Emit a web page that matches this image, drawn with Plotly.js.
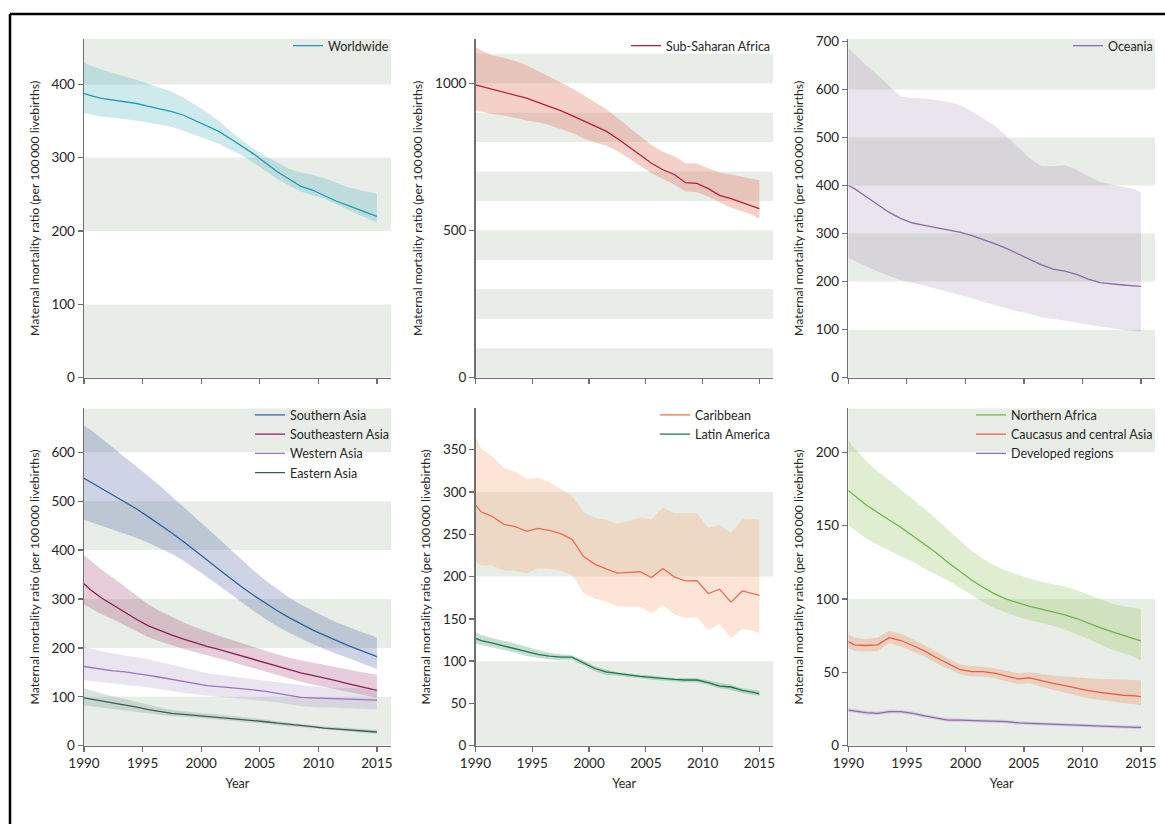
<!DOCTYPE html>
<html>
<head>
<meta charset="utf-8">
<script src="https://cdn.plot.ly/plotly-3.0.1.min.js"></script>
<style>
  html, body { margin: 0; padding: 0; background: #ffffff; }
  #chart { width: 1165px; height: 824px; }
</style>
</head>
<body>
<div id="chart"></div>
<script>
// Estimate years: line ends at 1990 and 2015, annual estimates at mid-year.
const years = [1990, 1990.5, 1991.5, 1992.5, 1993.5, 1994.5, 1995.5, 1996.5, 1997.5, 1998.5,
  1999.5, 2000.5, 2001.5, 2002.5, 2003.5, 2004.5, 2005.5, 2006.5, 2007.5, 2008.5,
  2009.5, 2010.5, 2011.5, 2012.5, 2013.5, 2014.5, 2015];
const xTicks = [1990, 1995, 2000, 2005, 2010, 2015];

// Maternal mortality ratio per 100 000 livebirths: point estimate and uncertainty bounds
const worldwideMid  = [388,385,381,379,377,374,370,367,363,358,351,344,336,326,316,305,293,281,271,261,256,248,241,235,229,223,220];
const worldwideHigh = [430,426,420,416,411,406,401,396,390,382,372,362,350,336,324,312,302,293,285,280,277,272,266,260,256,253,251];
const worldwideLow  = [361,359,356,355,353,351,348,345,342,337,331,325,319,311,303,293,282,271,262,254,249,244,237,229,222,215,211];

const subSaharanMid  = [994,989,980,970,961,949,935,922,907,890,872,856,837,812,784,756,728,706,690,662,660,642,619,608,595,583,574];
const subSaharanHigh = [1123,1111,1094,1086,1075,1060,1041,1022,1002,983,960,937,912,882,851,818,790,767,752,728,727,711,697,690,681,674,670];
const subSaharanLow  = [907,903,895,890,883,873,867,858,845,831,813,799,788,770,745,719,694,675,656,632,630,615,595,577,565,551,540];

const oceaniaMid  = [400,394,377,360,344,331,322,317,312,308,303,296,288,279,269,258,247,235,226,222,215,205,198,195,193,191,190];
const oceaniaHigh = [686,674,651,630,608,585,582,581,578,574,568,555,540,525,503,479,457,440,440,442,433,420,408,402,397,392,385];
const oceaniaLow  = [249,243,232,221,212,203,197,192,185,179,173,166,158,151,144,138,133,126,122,119,115,110,106,103,100,97,95];

const southernAsiaMid  = [547,540,527,513,499,484,468,452,435,417,399,380,361,342,324,307,291,276,262,249,237,226,215,205,196,187,182];
const southernAsiaHigh = [655,647,628,609,590,571,551,531,510,489,467,445,423,401,379,358,338,320,303,289,276,264,253,243,234,226,221];
const southernAsiaLow  = [462,458,450,442,434,425,415,404,392,378,362,345,328,310,292,275,259,244,231,219,208,198,189,180,172,163,157];

const southeasternAsiaMid  = [331,320,302,287,273,258,245,235,226,218,210,203,197,190,183,176,169,162,155,149,144,139,133,127,121,116,113];
const southeasternAsiaHigh = [390,380,360,343,325,307,289,275,263,252,242,233,225,217,209,201,194,187,180,175,170,166,161,156,151,147,145];
const southeasternAsiaLow  = [289,282,269,258,246,234,222,213,205,198,191,185,179,172,165,158,151,144,137,131,125,120,115,110,105,101,98];

const westernAsiaMid  = [162,160,157,153,151,148,144,140,136,131,127,123,121,119,117,114,111,107,103,99,98,97,95,94,94,93,93];
const westernAsiaHigh = [203,199,193,188,184,181,177,171,165,159,153,148,145,142,139,136,133,130,127,123,121,119,118,117,116,116,116];
const westernAsiaLow  = [134,133,130,127,125,122,119,116,112,108,105,102,100,98,96,94,92,89,85,81,79,78,76,75,75,74,74];

const easternAsiaMid  = [98,96,92,88,84,79,74,70,66,64,62,60,58,56,54,51,49,46,44,41,39,36,34,32,30,29,28];
const easternAsiaHigh = [118,114,107,101,95,89,83,78,73,70,68,66,64,61,59,56,53,50,48,45,42,40,38,36,34,33,33];
const easternAsiaLow  = [82,81,78,75,72,69,66,63,60,59,57,56,54,52,50,47,45,42,40,37,35,33,31,29,27,25,24];

const caribbeanMid  = [284.6,276.6,271,261.8,259,253.5,257,254.7,250.7,244,224,214.8,209.2,204,204.9,205.7,198.9,209.6,199.7,194.9,195.3,180,185,169.8,183,180,177.8];
const caribbeanHigh = [365.5,351.5,341.6,328.4,324.4,315.7,316.9,311.7,303.7,295.7,275.8,269.8,267,262.6,265.8,269.8,267.8,281.8,275,275,275,257.9,260.7,251.9,267.8,267.8,267];
const caribbeanLow  = [218,213.2,212.8,207.3,207.3,204,210,209.2,206.9,202,181,174.2,170.2,165,164.2,164.2,156.2,166.2,155.4,151,151.5,137,143.5,127.5,138.3,135.5,133];

const latinAmericaMid  = [127,124.4,121.2,118,114.8,111.2,108,106,104.8,104.8,98.4,91.3,87.3,85.3,83.3,82.1,80.9,79.3,78.5,77.7,77.7,74.5,70.5,69.4,65.4,63,61.4];
const latinAmericaHigh = [134,131,127,124,121,117,113,110,108,107,101,94,90,87,85,84,83,81,80,80,80,77,74,72,68,66,65];
const latinAmericaLow  = [121,119,116,113,110,106,104,102,101,101,95,88,84,83,81,80,78,77,76,75,75,72,68,66,62,60,59];

const northernAfricaMid  = [174,170.6,164.3,159,154,148.8,143.1,137.4,131.5,125.1,118.8,113.1,108,103.5,99.9,97.2,94.9,93.1,91.2,89.2,86.7,83.5,80.5,77.8,75.3,72.8,71.4];
const northernAfricaHigh = [208.6,203,194.3,187,180.9,174.5,168.1,161.5,154.5,147.2,139.9,133.1,127.4,122.9,119.2,116.5,114,111.7,109.9,108.5,106,102.8,99.7,96.9,95.1,93.7,93.3];
const northernAfricaLow  = [150.2,147.2,141.5,137,132.9,129,125.6,120.6,116.5,112.6,107.9,102.8,97.8,93.7,90.6,87.8,85.6,83.7,81.7,79.2,76.2,72.8,69.2,65.8,63,60.3,58];

const caucasusMid  = [71,68.7,68.3,68.7,73.7,71.7,68.3,64.6,60.1,56.2,52.1,50.5,50.5,49.4,47.6,45.5,46.2,44.1,42.5,41,39.1,37.5,36.4,35.3,34.4,33.9,33.4];
const caucasusHigh = [76,73.7,72.8,73.7,78.3,76.2,72.8,68.7,64.2,59.6,55.5,54.4,53.9,52.8,51,49.4,50.1,48.7,47.8,47.1,46.4,46,45.5,45.3,45.1,44.8,44.6];
const caucasusLow  = [66.4,64.8,64.2,64.6,69.9,67.6,64.2,60.8,56.2,52.3,48.7,47.1,47.1,46,44.1,41.9,42.5,40,38,36.2,34.1,32.3,31.2,30,29.1,28.2,27.3];

const developedMid  = [24.3,23.7,22.5,22.1,23.2,23.2,22.1,20.3,18.7,17.5,17.5,17.3,16.8,16.6,16.4,15.5,15.2,14.6,14.1,14.1,13.9,13.4,13.2,13,12.7,12.5,12.5];
const developedHigh = [25.6,25,23.8,23.3,24.5,24.4,23.3,21.5,19.9,18.7,18.6,18.4,17.9,17.7,17.5,16.6,16.3,15.7,15.2,15.2,15,14.5,14.3,14.1,13.8,13.7,13.7];
const developedLow  = [23.1,22.5,21.3,20.9,22,22,20.9,19.2,17.6,16.4,16.4,16.2,15.7,15.5,15.3,14.4,14.1,13.5,13,13,12.8,12.3,12.1,11.9,11.6,11.3,11.3];

// Series styling
const series = {
  'Worldwide':                {mid: worldwideMid, high: worldwideHigh, low: worldwideLow, line: '#1f9bb8', band: 'rgba(60,170,185,0.25)'},
  'Sub-Saharan Africa':       {mid: subSaharanMid, high: subSaharanHigh, low: subSaharanLow, line: '#b3203f', band: 'rgba(225,120,100,0.35)'},
  'Oceania':                  {mid: oceaniaMid, high: oceaniaHigh, low: oceaniaLow, line: '#8d6aa8', band: 'rgba(150,120,170,0.2)'},
  'Southern Asia':            {mid: southernAsiaMid, high: southernAsiaHigh, low: southernAsiaLow, line: '#2b63a0', band: 'rgba(80,100,160,0.28)'},
  'Southeastern Asia':        {mid: southeasternAsiaMid, high: southeasternAsiaHigh, low: southeasternAsiaLow, line: '#8c1f55', band: 'rgba(160,60,110,0.26)'},
  'Western Asia':             {mid: westernAsiaMid, high: westernAsiaHigh, low: westernAsiaLow, line: '#9d72bf', band: 'rgba(160,130,185,0.22)'},
  'Eastern Asia':             {mid: easternAsiaMid, high: easternAsiaHigh, low: easternAsiaLow, line: '#3c5a5a', band: 'rgba(80,130,115,0.22)'},
  'Caribbean':                {mid: caribbeanMid, high: caribbeanHigh, low: caribbeanLow, line: '#ee6a4f', band: 'rgba(245,170,120,0.3)'},
  'Latin America':            {mid: latinAmericaMid, high: latinAmericaHigh, low: latinAmericaLow, line: '#1b7a4c', band: 'rgba(60,150,95,0.3)'},
  'Northern Africa':          {mid: northernAfricaMid, high: northernAfricaHigh, low: northernAfricaLow, line: '#6db544', band: 'rgba(150,200,100,0.3)'},
  'Caucasus and central Asia':{mid: caucasusMid, high: caucasusHigh, low: caucasusLow, line: '#ee5b3e', band: 'rgba(240,140,100,0.3)'},
  'Developed regions':        {mid: developedMid, high: developedHigh, low: developedLow, line: '#8f6bb5', band: 'rgba(150,120,190,0.25)'}
};

// Panel grid: which regions go where, and the value axis of each
const panels = [
  {names: ['Worldwide'], yMax: 462, dtick: 100, col: 0, row: 0},
  {names: ['Sub-Saharan Africa'], yMax: 1150, dtick: 500, col: 1, row: 0},
  {names: ['Oceania'], yMax: 705, dtick: 100, col: 2, row: 0},
  {names: ['Southern Asia', 'Southeastern Asia', 'Western Asia', 'Eastern Asia'], yMax: 690, dtick: 100, col: 0, row: 1},
  {names: ['Caribbean', 'Latin America'], yMax: 399, dtick: 50, col: 1, row: 1},
  {names: ['Northern Africa', 'Caucasus and central Asia', 'Developed regions'], yMax: 230, dtick: 50, col: 2, row: 1}
];

const W = 1165, H = 824;
const colPx = [[84, 391], [475.5, 773], [848.3, 1155]];
const rowPx = [[39, 377.7], [408.3, 745.7]];
const FONT = 'Lato, "Open Sans", sans-serif';
const AXIS_COLOR = '#6f6f6f';
const TEXT_COLOR = '#262626';
const BAND_COLOR = '#e8ede7';

const traces = [];
const layout = {
  width: W, height: H,
  margin: {l: 0, r: 0, t: 0, b: 0},
  paper_bgcolor: '#ffffff',
  plot_bgcolor: '#ffffff',
  font: {family: FONT, size: 12, color: TEXT_COLOR},
  showlegend: true,
  shapes: []
};

panels.forEach((p, i) => {
  const n = i + 1;
  const sfx = n === 1 ? '' : String(n);
  const xName = 'x' + sfx, yName = 'y' + sfx;
  const legName = 'legend' + sfx;
  const xd = [colPx[p.col][0] / W, colPx[p.col][1] / W];
  const yd = [1 - rowPx[p.row][1] / H, 1 - rowPx[p.row][0] / H];
  const bottom = p.row === 1;

  layout['xaxis' + sfx] = {
    domain: xd, anchor: yName, range: [1990, 2016.2],
    tickvals: xTicks, ticktext: xTicks.map(String),
    showticklabels: bottom,
    ticks: 'outside', ticklen: 5, tickwidth: 1.3, tickcolor: AXIS_COLOR,
    showline: true, linecolor: AXIS_COLOR, linewidth: 1.4,
    showgrid: false, zeroline: false,
    tickfont: {family: FONT, size: 13.5, color: TEXT_COLOR},
    title: bottom ? {text: 'Year', font: {family: FONT, size: 12.5, color: TEXT_COLOR}, standoff: 9} : {text: ''}
  };
  layout['yaxis' + sfx] = {
    domain: yd, anchor: xName, range: [0, p.yMax],
    dtick: p.dtick, tick0: 0,
    ticks: 'outside', ticklen: 5, tickwidth: 1.3, tickcolor: AXIS_COLOR,
    showline: true, linecolor: AXIS_COLOR, linewidth: 1.4,
    showgrid: false, zeroline: false,
    tickfont: {family: FONT, size: 13.5, color: TEXT_COLOR},
    title: {text: 'Maternal mortality ratio (per 100\u2009000 livebirths)',
            font: {family: FONT, size: 12.3, color: TEXT_COLOR}, standoff: 9}
  };
  layout[legName] = {
    x: xd[1] + 3 / W, xanchor: 'right', y: yd[1] + 8 / H, yanchor: 'top',
    bgcolor: 'rgba(0,0,0,0)', borderwidth: 0, traceorder: 'normal',
    font: {family: FONT, size: 12.5, color: TEXT_COLOR},
    itemwidth: 30, tracegroupgap: 0, itemclick: false, itemdoubleclick: false
  };

  // alternating shaded bands every 100 units
  for (let k = 0; k < p.yMax - 5; k += 200) {
    let top = Math.min(k + 100, p.yMax);
    if (p.yMax - top < 10) top = p.yMax;
    layout.shapes.push({
      type: 'rect', layer: 'below',
      xref: xName + ' domain', x0: 0, x1: 1,
      yref: yName, y0: k, y1: top,
      fillcolor: BAND_COLOR, line: {width: 0}
    });
  }

  p.names.forEach(name => {
    const s = series[name];
    traces.push({
      x: years, y: s.low, xaxis: xName, yaxis: yName, type: 'scatter', mode: 'lines',
      line: {width: 0, color: 'rgba(0,0,0,0)'}, showlegend: false, hoverinfo: 'skip', legend: legName
    });
    traces.push({
      x: years, y: s.high, xaxis: xName, yaxis: yName, type: 'scatter', mode: 'lines',
      fill: 'tonexty', fillcolor: s.band,
      line: {width: 0, color: 'rgba(0,0,0,0)'}, showlegend: false, hoverinfo: 'skip', legend: legName
    });
    traces.push({
      x: years, y: s.mid, xaxis: xName, yaxis: yName, type: 'scatter', mode: 'lines',
      name: name, line: {width: 1.3, color: s.line}, showlegend: true, legend: legName,
      hoverinfo: 'skip'
    });
  });
});

// figure frame along the top and left edges
layout.shapes.push({type: 'line', xref: 'paper', yref: 'paper', x0: 10 / W, x1: 1, y0: 1 - 14 / H, y1: 1 - 14 / H, line: {color: '#000000', width: 2.5}});
layout.shapes.push({type: 'line', xref: 'paper', yref: 'paper', x0: 10 / W, x1: 10 / W, y0: 0, y1: 1 - 14 / H, line: {color: '#000000', width: 2.5}});

Plotly.newPlot('chart', traces, layout, {staticPlot: true, displayModeBar: false});
</script>
</body>
</html>
